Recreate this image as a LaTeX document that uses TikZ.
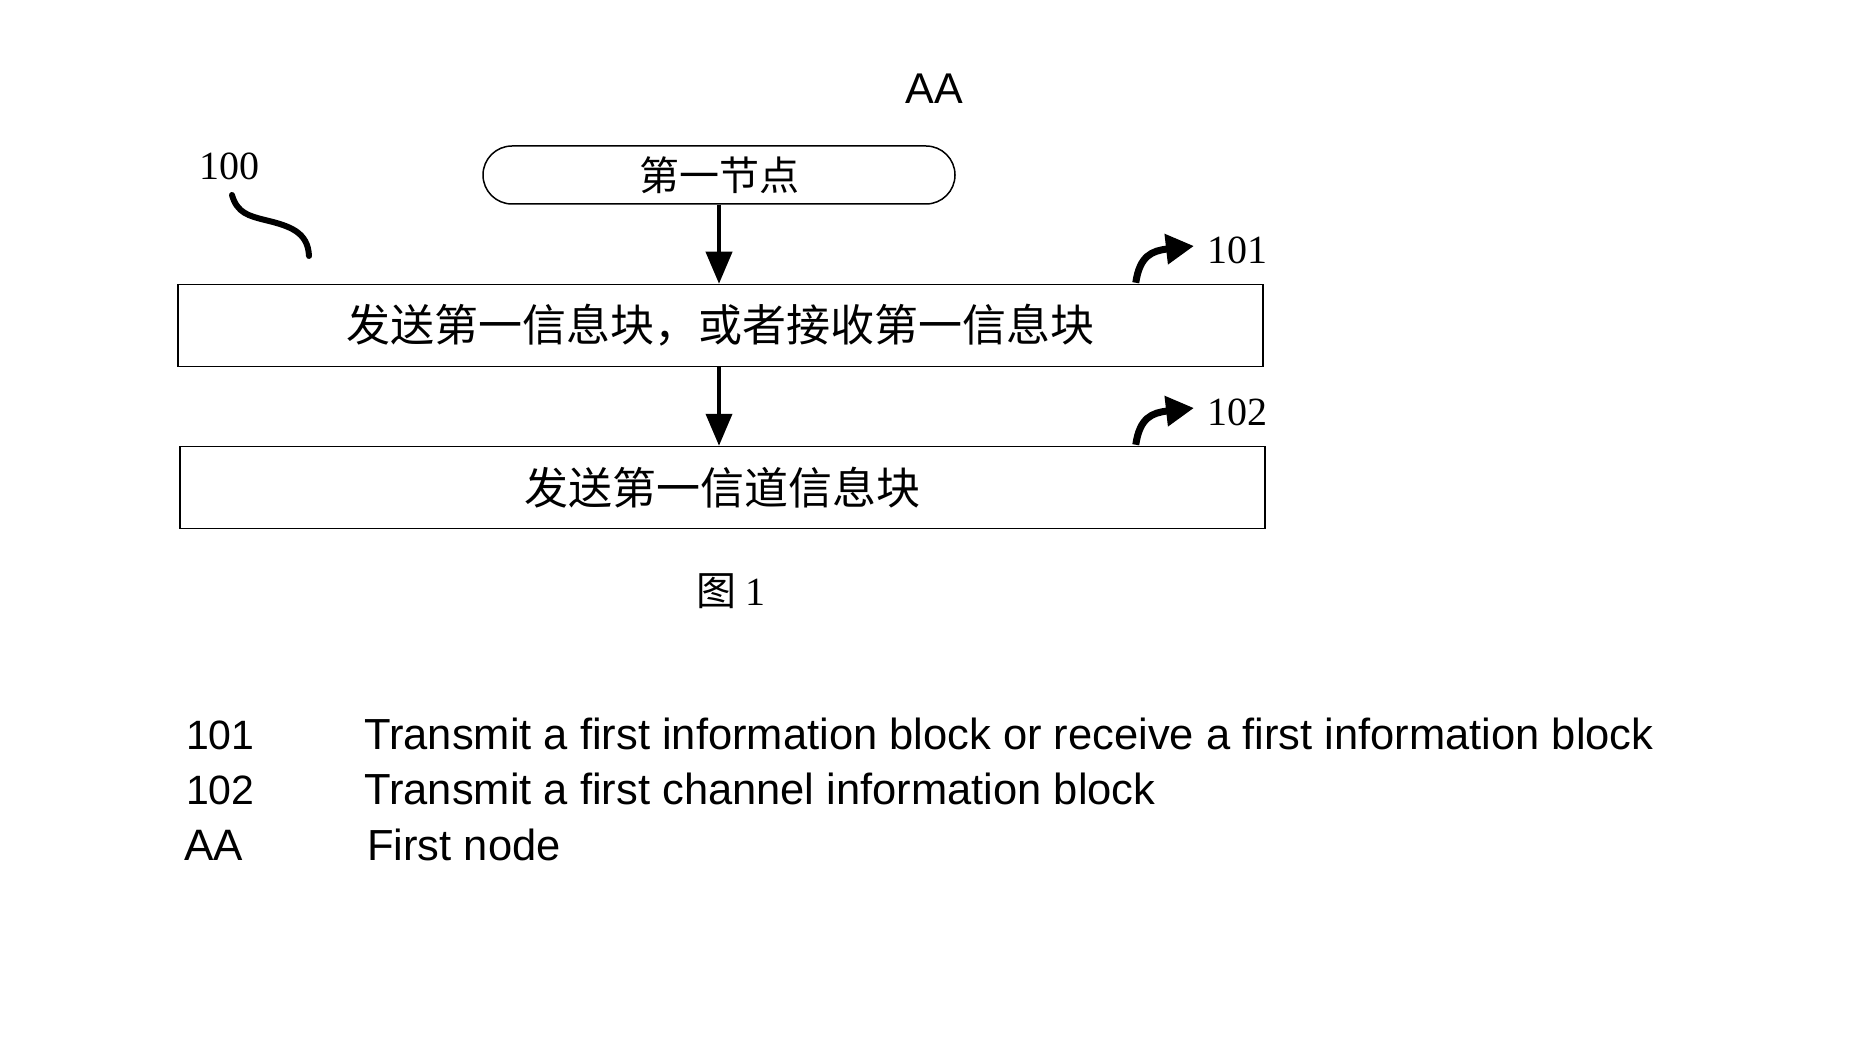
\documentclass[tikz,border=0pt]{standalone}
\usepackage{fontspec}
\setmainfont{Liberation Serif}
\newfontfamily\cjk{Noto Sans CJK SC}
\newfontfamily\arial{Liberation Sans}
\usetikzlibrary{arrows.meta,calc}

\tikzset{
  stepbox/.style={draw, line width=1.5pt, inner sep=0pt, minimum width=1085pt,
    minimum height=82pt, font=\cjk\fontsize{44}{48}\selectfont},
  startbox/.style={draw, line width=1.5pt, rounded corners=29pt, inner sep=0pt,
    minimum width=472pt, minimum height=58pt, font=\cjk\fontsize{40}{44}\selectfont},
  flow/.style={line width=4pt, -{Triangle[length=32pt,width=26pt]}},
  refarrow/.style={line width=7pt, -{Triangle[length=28pt,width=29pt]}},
  refnum/.style={font=\fontsize{40}{44}\selectfont, inner sep=0pt},
  legend/.style={anchor=base west, inner sep=0pt, font=\arial\fontsize{43.5}{46}\selectfont}
}

\begin{document}
\begin{tikzpicture}[x=1pt, y=-1pt]
  \useasboundingbox (0,0) rectangle (1849,1056);

  % Title
  \node[font=\arial\fontsize{43}{46}\selectfont, inner sep=0pt] (title) at (934,89) {AA};

  % Flow boxes
  \node[startbox] (start) at (719,175) {第一节点};
  \node[stepbox] (s101) at (720.5,325.5) {发送第一信息块，或者接收第一信息块};
  \node[stepbox] (s102) at (722.5,487.5) {发送第一信道信息块};

  % Arrows
  \draw[flow] (start.south) -- (start.south |- s101.north);
  \draw[flow] (s101.south -| start.south) -- (start.south |- s102.north);

  % Reference numerals
  \node[refnum] (n100) at (229,166) {100};
  \node[refnum, anchor=west] (n101) at (1207,250) {101};
  \node[refnum, anchor=west] (n102) at (1207,412) {102};

  \coordinate (w0) at (232,195);
  \coordinate (w1) at (309,256);
  \draw[line width=6pt, line cap=round] (w0) .. controls (237,213) and (249,216) .. (265,220)
    .. controls (290,226) and (308,232) .. (w1);
  \draw[refarrow] ($(s101.north east)+(-128,-1)$) .. controls ($(s101.north east)+(-124,-28)$) and ($(s101.north east)+(-112,-33)$) .. ($(n101.west)+(-13,-4)$);
  \draw[refarrow] ($(s102.north east)+(-130,-1)$) .. controls ($(s102.north east)+(-126,-28)$) and ($(s102.north east)+(-114,-33)$) .. ($(n102.west)+(-13,-4)$);

  % Caption
  \node[font=\fontsize{40}{44}\selectfont, inner sep=0pt] (caption) at (731,591) {\cjk 图\ \rmfamily 1};

  % Legend
  \node[legend, font=\arial\fontsize{41}{46}\selectfont] (k101) at (186,749) {101};
  \node[legend] (t101) at (364,749) {Transmit a first information block or receive a first information block};
  \node[legend, font=\arial\fontsize{41}{46}\selectfont] (k102) at (186,804) {102};
  \node[legend] (t102) at (364,804) {Transmit a first channel information block};
  \node[legend, font=\arial\fontsize{44}{46}\selectfont] (kAA) at (184,860) {AA};
  \node[legend] (tAA) at (367,860) {First node};
\end{tikzpicture}
\end{document}
